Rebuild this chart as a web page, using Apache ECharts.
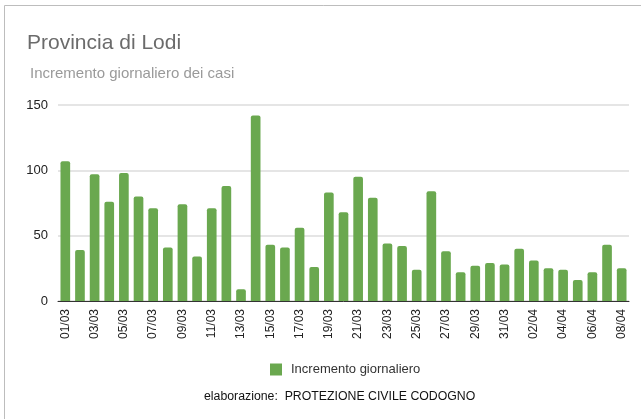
<!DOCTYPE html>
<html>
<head>
<meta charset="utf-8">
<script src="https://cdn.jsdelivr.net/npm/echarts@6/dist/echarts.min.js"></script>
<style>
  html, body { margin: 0; padding: 0; background: #fff; }
  #chart { width: 641px; height: 419px; }
</style>
</head>
<body>
<div id="chart"></div>
<script>
const days = [
  "01/03", "02/03", "03/03", "04/03", "05/03", "06/03", "07/03", "08/03",
  "09/03", "10/03", "11/03", "12/03", "13/03", "14/03", "15/03", "16/03",
  "17/03", "18/03", "19/03", "20/03", "21/03", "22/03", "23/03", "24/03",
  "25/03", "26/03", "27/03", "28/03", "29/03", "30/03", "31/03", "01/04",
  "02/04", "03/04", "04/04", "05/04", "06/04", "07/04", "08/04",
];
const dailyIncrease = [
  107, 39, 97, 76, 98, 80, 71, 41, 74, 34, 71, 88, 9, 142, 43, 41,
  56, 26, 83, 68, 95, 79, 44, 42, 24, 84, 38, 22, 27, 29, 28, 40,
  31, 25, 24, 16, 22, 43, 25,
];
const yTicks = [0, 50, 100, 150];

const FONT = '"Liberation Sans", Arial, sans-serif';
const BAR_GREEN = "#6aa84f";

const chart = echarts.init(document.getElementById("chart"), null, { renderer: "canvas" });

chart.setOption({
  animation: false,
  textStyle: { fontFamily: FONT },
  title: [
    {
      text: "Provincia di Lodi",
      left: 22,
      top: 28,
      textStyle: { fontSize: 21, fontWeight: "normal", color: "#6b6b6b" },
    },
    {
      text: "Incremento giornaliero dei casi",
      left: 25,
      top: 61,
      textStyle: { fontSize: 15, fontWeight: "normal", color: "#9a9a9a" },
    },
    {
      text: "elaborazione:  PROTEZIONE CIVILE CODOGNO",
      left: 199,
      top: 386,
      textStyle: { fontSize: 12.3, fontWeight: "normal", color: "#111" },
    },
  ],
  legend: {
    top: 358,
    left: 265,
    itemWidth: 12,
    itemHeight: 12,
    icon: "rect",
    textStyle: { fontSize: 13, color: "#333", padding: [0, 0, 0, 4] },
    data: ["Incremento giornaliero"],
  },
  grid: { left: 58, right: 12, top: 105, bottom: 118 },
  xAxis: {
    type: "category",
    data: days,
    axisLine: { lineStyle: { color: "#333", width: 1 } },
    axisTick: { show: false },
    axisLabel: {
      interval: 1,
      rotate: 90,
      fontSize: 12,
      color: "#222",
      margin: 8,
    },
  },
  yAxis: {
    type: "value",
    min: yTicks[0],
    max: yTicks[yTicks.length - 1],
    interval: 50,
    axisLine: { show: false },
    axisTick: { show: false },
    axisLabel: { fontSize: 13, color: "#222", margin: 10 },
    splitLine: { lineStyle: { color: "#dcdcdc", width: 1.5 } },
  },
  series: [
    {
      name: "Incremento giornaliero",
      type: "bar",
      data: dailyIncrease,
      barCategoryGap: "34%",
      itemStyle: { color: BAR_GREEN, borderRadius: [2, 2, 0, 0] },
    },
  ],
  graphic: [
    {
      type: "rect",
      shape: { x: 4.5, y: 5.5, width: 700, height: 480 },
      style: { fill: "none", stroke: "#bdbdbd", lineWidth: 1 },
      silent: true,
    },
  ],
});
</script>
</body>
</html>
